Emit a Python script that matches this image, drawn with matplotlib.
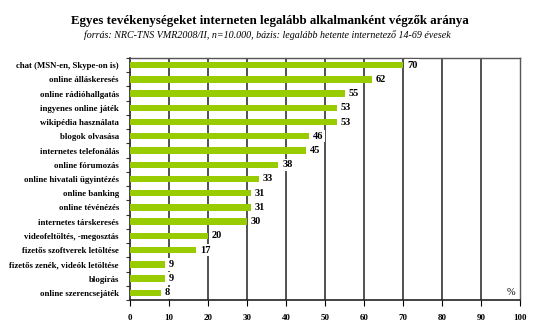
import matplotlib.pyplot as plt
import numpy as np

categories = [
    "chat (MSN-en, Skype-on is)",
    "online álláskeresés",
    "online rádióhallgatás",
    "ingyenes online játék",
    "wikipédia használata",
    "blogok olvasása",
    "internetes telefonálás",
    "online fórumozás",
    "online hivatali ügyintézés",
    "online banking",
    "online tévénézés",
    "internetes társkeresés",
    "videofeltöltés, -megosztás",
    "fizetős szoftverek letöltése",
    "fizetős zenék, videók letöltése",
    "blogírás",
    "online szerencsejáték",
]
values = [70, 62, 55, 53, 53, 46, 45, 38, 33, 31, 31, 30, 20, 17, 9, 9, 8]
xticks = list(range(0, 101, 10))

title = "Egyes tevékenységeket interneten legalább alkalmanként végzők aránya"
subtitle = "forrás: NRC-TNS VMR2008/II, n=10.000, bázis: legalább hetente internetező 14-69 évesek"

serif = "Liberation Serif"
green = "#99cc00"

fig = plt.figure(figsize=(5.6, 3.32), dpi=100)
ax = fig.add_axes([0.232, 0.0964, 0.697, 0.729])

y = np.arange(len(categories))
ax.barh(y, values, height=0.45, color=green, zorder=3)

ax.set_xlim(0, 100)
ax.set_ylim(len(categories) - 0.5, -0.5)

# gridlines
for t in xticks[1:-1]:
    ax.axvline(t, color="#333333", lw=1.2, zorder=1)

for yi, v in zip(y, values):
    ax.text(v + 1, yi, str(v), va="center", ha="left", fontsize=7.5,
            fontweight="bold", family=serif, zorder=4,
            bbox=dict(facecolor="white", edgecolor="none", pad=1.2))

ax.set_yticks(y)
ax.set_yticklabels(categories, fontsize=6.3, fontweight="bold", family=serif)
ax.set_yticks(np.arange(len(categories) + 1) - 0.5, minor=True)
ax.tick_params(axis="y", which="major", length=0, pad=8)
ax.tick_params(axis="y", which="minor", length=3, width=0.8, color="#333333")

ax.set_xticks(xticks)
ax.set_xticklabels([str(t) for t in xticks], fontsize=6.5, fontweight="bold", family=serif)
ax.tick_params(axis="x", length=4, width=0.8, pad=6)

for s in ["left", "bottom"]:
    ax.spines[s].set_color("#222222")
    ax.spines[s].set_linewidth(1.2)
for s in ["top", "right"]:
    ax.spines[s].set_color("#555555")
    ax.spines[s].set_linewidth(1.0)

ax.text(97.5, 16.0, "%", ha="center", va="center", fontsize=7.5, family=serif, zorder=4)

fig.text(0.482, 0.937, title, ha="center", va="center", fontsize=9.3,
         fontweight="bold", family=serif)
fig.text(0.477, 0.895, subtitle, ha="center", va="center", fontsize=7.2,
         style="italic", family=serif)

fig.savefig("out.png", dpi=100)
